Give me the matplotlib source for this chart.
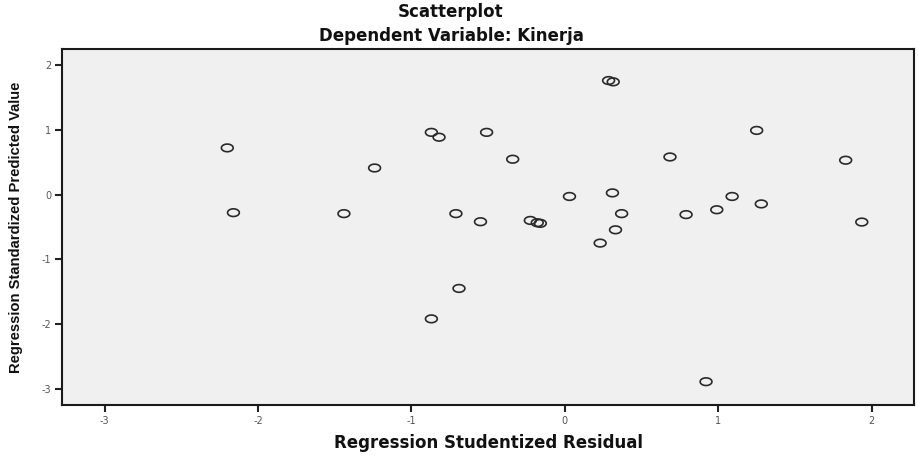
import matplotlib
matplotlib.use("Agg")
import matplotlib.pyplot as plt
import numpy as np
from matplotlib.path import Path

# Data
studentized_residual = [-2.20, -2.16, -1.44, -1.24, -0.87, -0.82, -0.51, -0.34,
                        -0.71, -0.55, -0.225, -0.18, -0.16, -0.69, -0.87,
                        0.03, 0.31, 0.37, 0.33, 0.23, 0.285, 0.315, 0.92,
                        0.685, 1.25, 1.83, 1.09, 0.99, 1.28, 0.79, 1.935]
standardized_predicted = [0.72, -0.28, -0.295, 0.41, 0.96, 0.885, 0.96, 0.545,
                          -0.295, -0.42, -0.40, -0.435, -0.445, -1.45, -1.92,
                          -0.03, 0.025, -0.295, -0.545, -0.75, 1.76, 1.74, -2.89,
                          0.58, 0.99, 0.53, -0.03, -0.235, -0.145, -0.31, -0.425]
x_ticks = [-3, -2, -1, 0, 1, 2]
y_ticks = [-3, -2, -1, 0, 1, 2]

font = ["Liberation Sans", "DejaVu Sans"]
wide = ["DejaVu Sans"]

fig = plt.figure(figsize=(9.18, 4.68), dpi=100)
ax = fig.add_axes([0.0679, 0.1346, 0.9277, 0.7611])
ax.set_facecolor("#f0f0f0")

# elliptical open marker
t = np.linspace(0, 2 * np.pi, 60)
ell = Path(np.column_stack([np.cos(t), 0.65 * np.sin(t)]), closed=True)

ax.scatter(studentized_residual, standardized_predicted, marker=ell, s=72,
           facecolors="none", edgecolors="#2a2a2a", linewidths=1.2, zorder=3)

ax.set_xlim(-3.275, 2.275)
ax.set_ylim(-3.25, 2.25)
ax.set_xticks(x_ticks)
ax.set_yticks(y_ticks)
ax.set_xticklabels([str(v) for v in x_ticks], fontfamily=wide, fontsize=7, color="#555555")
ax.set_yticklabels([str(v) for v in y_ticks], fontfamily=wide, fontsize=7, color="#555555")
ax.tick_params(direction="out", length=5, width=1.5, color="#222222", pad=3)

for s in ax.spines.values():
    s.set_linewidth(1.5)
    s.set_color("#1a1a1a")

ax.set_xlabel("Regression Studentized Residual", fontfamily=wide, fontsize=12,
              fontweight="bold", color="#111111", labelpad=6)
ax.set_ylabel("Regression Standardized Predicted Value", fontfamily=font, fontsize=10.6,
              fontweight="bold", color="#111111", labelpad=13)

fig.text(0.4913, 0.974, "Scatterplot", ha="center", va="center", fontfamily=wide,
         fontsize=12, fontweight="bold", color="#111111")
fig.text(0.4913, 0.923, "Dependent Variable: Kinerja", ha="center", va="center",
         fontfamily=wide, fontsize=12, fontweight="bold", color="#111111")

fig.savefig("out.png", dpi=100, facecolor="white")
